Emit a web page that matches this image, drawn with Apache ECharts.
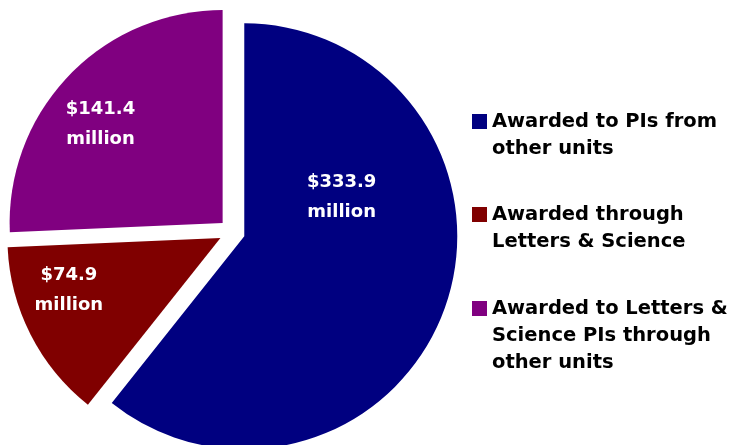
<!DOCTYPE html>
<html>
<head>
<meta charset="utf-8">
<script src="https://cdn.jsdelivr.net/npm/echarts@6/dist/echarts.min.js"></script>
<style>
  html, body { margin: 0; padding: 0; background: #fff; }
  #chart { width: 731px; height: 445px; }
</style>
</head>
<body>
<div id="chart"></div>
<script>
// funding split, $ million
const categories = [
  'Awarded to PIs from other units',
  'Awarded through Letters & Science',
  'Awarded to Letters & Science PIs through other units'
]
const values = [333.9, 74.9, 141.4]
const legendLines = [
  ['Awarded to PIs from', 'other units'],
  ['Awarded through', 'Letters & Science'],
  ['Awarded to Letters &', 'Science PIs through', 'other units']
]

const colors = ['#000080', '#800000', '#800080']
const labelShift = [[-6, -75], [-54, 3], [-43, -23]]
const legendTops = [81, 174, 241]

const LINE_H = 27
const chart = echarts.init(document.getElementById('chart'), null, { renderer: 'canvas' })

// blank lines on top so the first text line sits level with the icon
const legends = categories.map((name, i) => {
  const n = legendLines[i].length
  return {
    orient: 'vertical',
    left: 472,
    top: legendTops[i],
    padding: 0,
    itemWidth: 15,
    itemHeight: 15,
    selectedMode: false,
    icon: 'rect',
    data: [name],
    formatter: () => '\n'.repeat(n - 1) + legendLines[i].join('\n'),
    textStyle: {
      fontFamily: 'DejaVu Sans',
      fontWeight: 'bold',
      fontSize: 19.5,
      lineHeight: LINE_H,
      color: '#000'
    }
  }
})

const option = {
  animation: false,
  color: colors,
  legend: legends,
  series: [
    {
      type: 'pie',
      center: [232, 232],
      radius: 213,
      startAngle: 90,
      clockwise: true,
      selectedMode: 'multiple',
      selectedOffset: 13,
      avoidLabelOverlap: false,
      emphasis: { disabled: true },
      itemStyle: { borderWidth: 0 },
      labelLine: { show: false },
      label: {
        show: true,
        position: 'inside',
        color: '#fff',
        fontFamily: 'DejaVu Sans',
        fontWeight: 'bold',
        fontSize: 18,
        lineHeight: 30,
        formatter: p => '$' + p.value.toFixed(1) + '\nmillion'
      },
      labelLayout: p => ({ dx: labelShift[p.dataIndex][0], dy: labelShift[p.dataIndex][1] }),
      data: categories.map((name, i) => ({
        name,
        value: values[i],
        selected: true
      }))
    }
  ]
}

chart.setOption(option)
</script>
</body>
</html>
